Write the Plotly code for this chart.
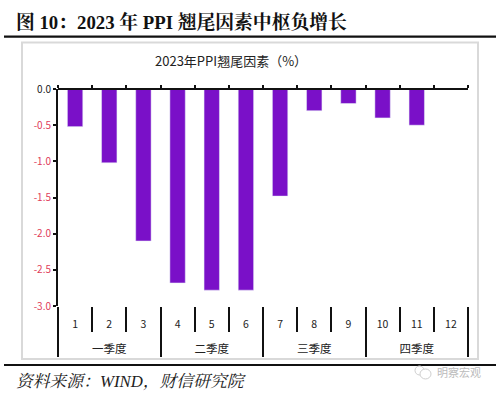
import plotly.graph_objects as go

quarter_names = ["一季度", "二季度", "三季度", "四季度"]
months = ["1","2","3","4","5","6","7","8","9","10","11","12"]
values = [-0.52,-1.02,-2.1,-2.68,-2.78,-2.78,-1.48,-0.3,-0.2,-0.4,-0.5,0]
y_ticks = [0,-0.5,-1,-1.5,-2,-2.5,-3]
y_labels = ["0.0"]+[f'<span style="color:#E0405A">{v:.1f}</span>' for v in y_ticks[1:]]
heading = "<b>图 10：2023 年 PPI 翘尾因素中枢负增长</b>"
chart_title = "2023年PPI翘尾因素（%）"
source = "资料来源：WIND，财信研究院"
watermark = "明察宏观"

W, H = 500, 394
L, R, T, B = 58, 468, 88.5, 356   # plot container
AX_B = 306                        # bottom of value axis
SANS = "'Noto Sans CJK SC', 'Open Sans', sans-serif"
SERIF = "'Liberation Serif', 'Noto Serif CJK SC', 'Noto Sans CJK SC', serif"

def px(x): return (x - L) / (R - L)
def py(y): return (B - y) / (B - T)

fig = go.Figure()
fig.add_trace(go.Bar(x=months, y=values, marker_color="#7A10C8", width=0.45,
                     xaxis="x", yaxis="y", showlegend=False))
fig.add_trace(go.Bar(x=months, y=[0]*12, xaxis="x2", yaxis="y", showlegend=False,
                     marker_color="rgba(0,0,0,0)"))
fig.add_trace(go.Bar(x=quarter_names, y=[0]*4, xaxis="x3", yaxis="y", showlegend=False,
                     marker_color="rgba(0,0,0,0)"))

shapes = [
    dict(type="line", xref="paper", yref="paper", x0=px(4), x1=px(496), y0=py(36), y1=py(36),
         line=dict(color="#111", width=2.2)),
    dict(type="line", xref="paper", yref="paper", x0=px(4), x1=px(496), y0=py(365), y1=py(365),
         line=dict(color="#111", width=2)),
    dict(type="rect", xref="paper", yref="paper", x0=px(22), x1=px(478), y0=py(359), y1=py(42),
         line=dict(color="#D9D9D9", width=2), fillcolor="rgba(0,0,0,0)", layer="below"),
    dict(type="circle", xref="paper", yref="paper", x0=px(415), x1=px(424), y0=py(375), y1=py(366),
         line=dict(color="#CFCFCF", width=1), fillcolor="white"),
    dict(type="circle", xref="paper", yref="paper", x0=px(420), x1=px(431), y0=py(379), y1=py(369),
         line=dict(color="#CFCFCF", width=1), fillcolor="white"),
]

annotations = [
    dict(text=heading, x=px(14), y=py(21), xref="paper", yref="paper", xanchor="left", yanchor="middle",
         showarrow=False, font=dict(family=SERIF, size=18.8, color="#111")),
    dict(text=chart_title, x=px(231), y=py(60), xref="paper", yref="paper", xanchor="center", yanchor="middle",
         showarrow=False, font=dict(family=SANS, size=13, color="#222")),
    dict(text=f"<i>{source}</i>", x=px(14), y=py(382), xref="paper", yref="paper", xanchor="left", yanchor="middle",
         showarrow=False, font=dict(family=SERIF, size=16.8, color="#222")),
    dict(text=watermark, x=px(459), y=py(372), xref="paper", yref="paper", xanchor="center", yanchor="middle",
         showarrow=False, font=dict(family=SANS, size=11, color="#BBBBBB")),
]

axpos = py(AX_B)
fig.update_layout(
    width=W, height=H, paper_bgcolor="white", plot_bgcolor="rgba(0,0,0,0)",
    margin=dict(l=L, r=W-R, t=T, b=H-B, pad=0), barmode="overlay",
    font=dict(family=SANS, size=10, color="#222"),
    shapes=shapes, annotations=annotations, showlegend=False,
    xaxis=dict(type="category", side="bottom", showline=False, ticks="outside", ticklen=25,
               tickson="boundaries", tickwidth=2, tickcolor="#111", tickfont=dict(size=10.5, color="#222"),
               ticklabelstandoff=10, showgrid=False, zeroline=False, anchor="y"),
    xaxis2=dict(type="category", overlaying="x", side="top", anchor="free", position=1.0, showline=True,
                linecolor="#111", linewidth=2, ticks="outside", ticklen=3, tickwidth=2, tickcolor="#111",
                tickson="boundaries", showticklabels=False, showgrid=False, zeroline=False),
    xaxis3=dict(type="category", overlaying="x", side="bottom", anchor="y", showline=False,
                ticks="outside", ticklen=50, tickwidth=2, tickcolor="#111", tickson="boundaries",
                tickfont=dict(size=11.5, color="#222"), ticklabelstandoff=34, showgrid=False, zeroline=False),
    yaxis=dict(domain=[axpos, 1], range=[-3, 0], tickmode="array", tickvals=y_ticks, ticktext=y_labels,
               showline=True, linecolor="#111", linewidth=2, ticks="outside", ticklen=3, tickwidth=2,
               tickcolor="#111", showgrid=False, zeroline=False, tickfont=dict(size=10, color="#222")),
)
fig.write_html("out.html", config={"displayModeBar": False},
               post_script="document.body.style.margin='0';document.documentElement.style.overflow='hidden';")
